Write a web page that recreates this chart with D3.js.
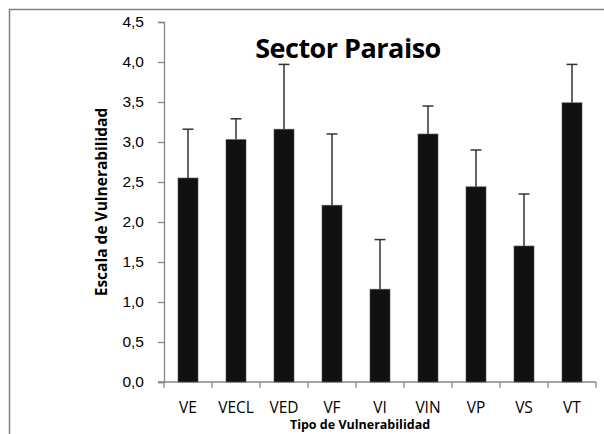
<!DOCTYPE html>
<html>
<head>
<meta charset="utf-8">
<script src="https://cdn.jsdelivr.net/npm/d3@7"></script>
<style>
  body { margin: 0; background: #fff; }
  svg { display: block; font-family: "Open Sans", Lato, sans-serif; }
</style>
</head>
<body>
<svg id="chart"></svg>
<script>
// datos
const categories = ["VE", "VECL", "VED", "VF", "VI", "VIN", "VP", "VS", "VT"];
const means = [2.55, 3.03, 3.16, 2.21, 1.16, 3.10, 2.44, 1.70, 3.49];
const upperErr = [3.16, 3.29, 3.97, 3.10, 1.78, 3.45, 2.90, 2.35, 3.97];
const yTicks = [0, 0.5, 1, 1.5, 2, 2.5, 3, 3.5, 4, 4.5];

const width = 604, height = 434;
const marge = { top: 22, right: 8, bottom: 52, left: 164 };

const svg = d3.select("#chart").attr("width", width).attr("height", height);

// marco del grafico
svg.append("rect")
  .attr("x", 9.5).attr("y", 9.5)
  .attr("width", 620).attr("height", 460)
  .attr("fill", "none").attr("stroke", "#808080").attr("stroke-width", 1.5);

const x = d3.scaleBand()
  .domain(categories)
  .range([marge.left, width - marge.right]);

const y = d3.scaleLinear()
  .domain([0, 4.5])
  .range([height - marge.bottom, marge.top]);

const axisColor = "#868686";

// eje y
const gy = svg.append("g")
  .attr("transform", `translate(${marge.left},0)`)
  .call(d3.axisLeft(y).tickValues(yTicks).tickSize(6).tickPadding(14)
    .tickFormat(d => d3.format(".1f")(d).replace(".", ",")));
gy.select(".domain").attr("stroke", axisColor).attr("stroke-width", 1.3);
gy.selectAll(".tick line").attr("stroke", axisColor).attr("stroke-width", 1.3);
gy.selectAll(".tick text").attr("font-size", 15.5).attr("fill", "#000");

// eje x (marcas entre categorias)
const gx = svg.append("g")
  .attr("transform", `translate(0,${y(0)})`);
gx.append("line")
  .attr("x1", marge.left - 6).attr("x2", width - marge.right)
  .attr("stroke", axisColor).attr("stroke-width", 1.3);
const bounds = categories.map(c => x(c)).concat([x(categories[categories.length - 1]) + x.bandwidth()]);
gx.selectAll("line.tk")
  .data(bounds)
  .enter().append("line")
  .attr("class", "tk")
  .attr("x1", d => d).attr("x2", d => d)
  .attr("y1", 0).attr("y2", 6)
  .attr("stroke", axisColor).attr("stroke-width", 1.3);
gx.selectAll("text")
  .data(categories)
  .enter().append("text")
  .attr("x", d => x(d) + x.bandwidth() / 2)
  .attr("y", 31)
  .attr("text-anchor", "middle")
  .attr("font-size", 15.5)
  .text(d => d);

// barras
const barW = 20;
const gs = svg.append("g").selectAll("g")
  .data(categories)
  .enter().append("g");

gs.append("line")
  .attr("x1", d => x(d) + x.bandwidth() / 2)
  .attr("x2", d => x(d) + x.bandwidth() / 2)
  .attr("y1", (d, i) => y(means[i]))
  .attr("y2", (d, i) => y(upperErr[i]))
  .attr("stroke", "#333").attr("stroke-width", 1.5);
gs.append("line")
  .attr("x1", d => x(d) + x.bandwidth() / 2 - 5.5)
  .attr("x2", d => x(d) + x.bandwidth() / 2 + 5.5)
  .attr("y1", (d, i) => y(upperErr[i]))
  .attr("y2", (d, i) => y(upperErr[i]))
  .attr("stroke", "#333").attr("stroke-width", 1.5);

gs.append("rect")
  .attr("x", d => x(d) + x.bandwidth() / 2 - barW / 2)
  .attr("y", (d, i) => y(means[i]))
  .attr("width", barW)
  .attr("height", (d, i) => y(0) - y(means[i]))
  .attr("fill", "#111")
  .attr("stroke", "#555").attr("stroke-width", 0.6);

// titulos
svg.append("text")
  .attr("x", 348).attr("y", 58)
  .attr("text-anchor", "middle")
  .attr("font-size", 27).attr("font-weight", "bold")
  .attr("letter-spacing", -0.5)
  .text("Sector Paraiso");

svg.append("text")
  .attr("x", 360).attr("y", 429)
  .attr("text-anchor", "middle")
  .attr("font-size", 12.5).attr("font-weight", "bold")
  .text("Tipo de Vulnerabilidad");

svg.append("text")
  .attr("transform", "translate(107,202) rotate(-90)")
  .attr("text-anchor", "middle")
  .attr("font-size", 15.5).attr("font-weight", "bold")
  .text("Escala de Vulnerabilidad");
</script>
</body>
</html>
